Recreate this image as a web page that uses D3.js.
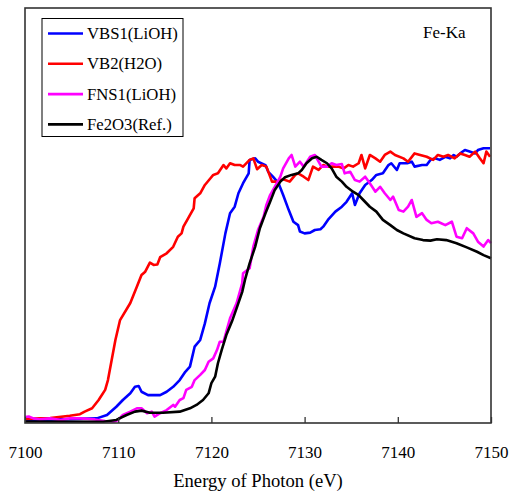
<!DOCTYPE html>
<html>

<head>
  <meta charset="utf-8">
  <title>Fe-Ka</title>
  <script src="https://d3js.org/d3.v7.min.js"></script>
  <style>
    body {
      margin: 0;
      background: #fff;
    }

    text {
      font-family: "Liberation Serif", "Times New Roman", serif;
      fill: #000;
    }
  </style>
</head>

<body>

  <div id="vis1"></div>

  <script>

    // [energia (eV), absorcao normalizada]
    var vbs1 = [[7100.0, 0.008], [7103.8, 0.010], [7107.7, 0.014], [7108.8, 0.027], [7109.8, 0.059], [7110.5, 0.085],
      [7111.3, 0.111], [7111.8, 0.136], [7112.2, 0.139], [7112.5, 0.117], [7113.2, 0.104], [7113.8, 0.104],
      [7114.5, 0.104], [7115.2, 0.117], [7115.9, 0.136], [7116.6, 0.162], [7117.2, 0.194], [7117.7, 0.214],
      [7118.2, 0.291], [7118.8, 0.317], [7119.3, 0.381], [7119.8, 0.459], [7120.4, 0.523], [7120.9, 0.613],
      [7121.5, 0.729], [7122.0, 0.807], [7122.5, 0.832], [7122.9, 0.884], [7123.4, 0.923], [7124.0, 0.961],
      [7124.1, 1.013], [7124.7, 1.019], [7125.0, 1.006], [7125.8, 0.993], [7126.1, 0.967], [7126.6, 0.948],
      [7127.2, 0.923], [7127.7, 0.877], [7128.3, 0.819], [7128.8, 0.774], [7129.3, 0.761], [7129.5, 0.736],
      [7130.0, 0.729], [7130.6, 0.732], [7131.1, 0.742], [7131.7, 0.745], [7132.0, 0.755], [7132.5, 0.781],
      [7133.3, 0.813], [7134.0, 0.832], [7134.5, 0.851], [7135.1, 0.884], [7135.4, 0.839], [7135.9, 0.884],
      [7136.5, 0.916], [7137.2, 0.935], [7137.7, 0.955], [7138.4, 0.961], [7139.0, 0.993], [7139.3, 1.000],
      [7139.9, 0.974], [7140.2, 1.000], [7141.0, 1.000], [7141.5, 1.006], [7141.8, 0.987], [7142.6, 0.993],
      [7143.1, 0.993], [7143.5, 1.013], [7144.0, 1.019], [7144.5, 1.013], [7145.1, 1.025], [7145.6, 1.019],
      [7146.0, 1.032], [7146.3, 1.025], [7146.7, 1.038], [7147.2, 1.051], [7147.7, 1.045], [7148.3, 1.038],
      [7148.6, 1.051], [7149.2, 1.058], [7149.9, 1.058]];

    var vb2 = [[7100.0, 0.012], [7102.7, 0.015], [7104.8, 0.024], [7105.9, 0.030], [7106.4, 0.040], [7107.2, 0.053],
      [7107.9, 0.085], [7108.6, 0.124], [7108.9, 0.162], [7109.3, 0.240], [7109.7, 0.317], [7110.2, 0.394],
      [7111.3, 0.460], [7112.0, 0.523], [7112.5, 0.568], [7112.9, 0.581], [7113.4, 0.616], [7113.8, 0.607],
      [7114.2, 0.609], [7114.5, 0.637], [7115.2, 0.652], [7115.9, 0.677], [7116.4, 0.716], [7116.8, 0.729],
      [7117.0, 0.755], [7117.5, 0.787], [7118.1, 0.826], [7118.2, 0.865], [7118.8, 0.884], [7119.3, 0.916],
      [7119.9, 0.942], [7120.2, 0.955], [7120.7, 0.961], [7121.3, 0.993], [7121.6, 0.980], [7122.0, 1.000],
      [7122.5, 0.993], [7123.1, 0.993], [7123.4, 0.987], [7124.1, 1.013], [7124.5, 1.019], [7124.9, 0.977],
      [7125.4, 0.993], [7125.9, 0.987], [7126.5, 0.929], [7127.0, 0.929], [7127.7, 0.938], [7128.4, 0.929],
      [7129.0, 0.955], [7129.3, 0.961], [7129.9, 0.948], [7130.4, 0.935], [7130.9, 0.987], [7131.5, 0.974],
      [7132.0, 0.993], [7132.5, 0.987], [7133.1, 0.987], [7133.6, 0.987], [7134.2, 0.980], [7134.7, 0.993],
      [7135.2, 0.987], [7135.8, 1.000], [7136.1, 1.032], [7136.5, 0.980], [7137.0, 1.032], [7137.6, 1.019],
      [7138.1, 1.006], [7138.6, 1.032], [7139.2, 1.045], [7139.7, 1.032], [7140.6, 1.019], [7141.1, 1.006],
      [7141.8, 1.038], [7142.4, 1.032], [7143.1, 1.025], [7143.8, 1.013], [7144.3, 1.032], [7144.9, 1.025],
      [7145.4, 1.032], [7146.1, 1.019], [7146.7, 1.038], [7147.2, 1.032], [7147.7, 1.025], [7148.3, 1.045],
      [7148.8, 1.019], [7149.2, 1.000], [7149.5, 1.045], [7149.9, 1.025]];

    var fns1 = [[7100.0, 0.019], [7100.4, 0.021], [7100.9, 0.014], [7101.6, 0.010], [7102.7, 0.014], [7103.8, 0.008],
      [7104.8, 0.014], [7105.9, 0.014], [7107.5, 0.010], [7108.6, 0.004], [7109.5, 0.001], [7110.0, 0.008],
      [7110.5, 0.027], [7111.3, 0.040], [7112.0, 0.053], [7112.5, 0.053], [7113.1, 0.034], [7113.6, 0.040],
      [7113.9, 0.021], [7114.5, 0.034], [7115.2, 0.046], [7115.9, 0.066], [7116.1, 0.059], [7116.6, 0.085],
      [7117.0, 0.092], [7117.3, 0.124], [7117.9, 0.136], [7118.2, 0.162], [7118.8, 0.182], [7119.3, 0.201],
      [7119.7, 0.233], [7120.2, 0.246], [7120.6, 0.278], [7120.9, 0.310], [7121.3, 0.310], [7121.6, 0.349],
      [7122.0, 0.401], [7122.3, 0.426], [7122.7, 0.459], [7123.3, 0.536], [7123.4, 0.575], [7124.1, 0.594],
      [7124.5, 0.678], [7125.0, 0.742], [7125.6, 0.793], [7125.9, 0.839], [7126.3, 0.877], [7126.8, 0.909],
      [7127.4, 0.948], [7127.7, 0.980], [7128.3, 1.019], [7128.6, 1.032], [7129.0, 0.987], [7129.5, 1.006],
      [7129.9, 0.987], [7130.6, 1.025], [7131.1, 1.032], [7131.8, 0.987], [7132.4, 0.987], [7132.9, 1.000],
      [7133.4, 0.993], [7134.0, 0.997], [7134.3, 0.961], [7134.9, 0.967], [7135.4, 0.935], [7135.9, 0.929],
      [7136.5, 0.948], [7137.0, 0.923], [7137.6, 0.890], [7138.1, 0.909], [7138.6, 0.884], [7139.2, 0.858],
      [7139.5, 0.871], [7140.1, 0.819], [7140.6, 0.813], [7141.1, 0.832], [7141.5, 0.858], [7142.0, 0.793],
      [7142.6, 0.807], [7143.1, 0.781], [7143.6, 0.768], [7144.3, 0.774], [7145.1, 0.761], [7145.8, 0.774],
      [7146.3, 0.716], [7146.9, 0.710], [7147.4, 0.749], [7148.1, 0.729], [7148.6, 0.697], [7149.2, 0.678],
      [7149.7, 0.703], [7150.0, 0.691]];

    var fe2o3 = [[7100.0, 0.002], [7108.4, 0.001], [7109.8, 0.008], [7110.9, 0.027], [7111.8, 0.040], [7112.5, 0.044],
      [7113.4, 0.036], [7114.8, 0.036], [7116.6, 0.040], [7117.7, 0.053], [7118.4, 0.066], [7119.1, 0.085],
      [7119.7, 0.111], [7120.0, 0.150], [7120.4, 0.175], [7120.7, 0.227], [7121.1, 0.278], [7121.6, 0.336],
      [7122.2, 0.388], [7122.7, 0.439], [7123.3, 0.502], [7123.6, 0.549], [7124.1, 0.613], [7124.7, 0.678],
      [7125.2, 0.749], [7125.8, 0.807], [7126.3, 0.851], [7126.8, 0.897], [7127.4, 0.929], [7127.9, 0.946],
      [7128.6, 0.955], [7129.3, 0.961], [7129.7, 0.974], [7130.2, 1.000], [7130.8, 1.019], [7131.3, 1.025],
      [7131.8, 1.013], [7132.4, 1.000], [7132.9, 0.980], [7133.4, 0.948], [7134.0, 0.929], [7134.5, 0.909],
      [7135.2, 0.890], [7135.8, 0.877], [7136.3, 0.858], [7137.0, 0.832], [7137.7, 0.813], [7138.4, 0.781],
      [7139.2, 0.761], [7139.9, 0.742], [7140.6, 0.729], [7141.8, 0.710], [7142.7, 0.703], [7143.5, 0.701],
      [7144.2, 0.706], [7145.2, 0.703], [7146.3, 0.691], [7147.4, 0.675], [7148.5, 0.658], [7149.2, 0.645],
      [7150.0, 0.633]];

    var nomes = ["VBS1(LiOH)", "VB2(H2O)", "FNS1(LiOH)", "Fe2O3(Ref.)"];
    var cores = ["#0000ff", "#ff0000", "#ff00ff", "#000000"];
    var xTicks = [7100, 7110, 7120, 7130, 7140, 7150];

    var larguraSVG = 509, alturaSVG = 492;
    var margin = { top: 8, right: 18, bottom: 69, left: 25 },
      larguraVis = larguraSVG - margin.left - margin.right,
      alturaVis = alturaSVG - margin.top - margin.bottom;

    var svg = d3.select('#vis1')
      .append('svg')
      .attr('width', larguraSVG)
      .attr('height', alturaSVG);

    var grafico = svg.append('g')
      .attr('transform', 'translate(' + margin.left + ',' + margin.top + ')');

    var x = d3.scaleLinear()
      .domain([7100, 7150])
      .range([0, larguraVis]);

    var y = d3.scaleLinear()
      .domain([0, 1.6])
      .range([alturaVis - 1, 0]);

    var linha = d3.line()
      .x(d => x(d[0]))
      .y(d => y(d[1]));

    var series = [vbs1, vb2, fns1, fe2o3];

    grafico.selectAll('.serie')
      .data(series)
      .enter()
      .append('path')
      .attr('class', 'serie')
      .attr('d', linha)
      .attr('fill', 'none')
      .attr('stroke', (d, i) => cores[i])
      .attr('stroke-width', 2.6)
      .attr('stroke-linejoin', 'round');

    // eixo x com ticks para dentro
    var eixoX = grafico.append('g')
      .attr('transform', 'translate(0,' + alturaVis + ')')
      .call(d3.axisBottom(x).tickValues(xTicks).tickSize(-6).tickPadding(23).tickFormat(d3.format('d')));

    eixoX.select('.domain').remove();
    eixoX.selectAll('line').attr('stroke', '#333').attr('stroke-width', 1.3);
    eixoX.selectAll('text')
      .attr('font-size', '17px')
      .attr('font-family', '"Liberation Serif", serif')
      .attr('fill', '#000');

    grafico.append('rect')
      .attr('x', 0)
      .attr('y', 0)
      .attr('width', larguraVis)
      .attr('height', alturaVis)
      .attr('fill', 'none')
      .attr('stroke', '#333')
      .attr('stroke-width', 1.6);

    grafico.append('text')
      .attr('x', larguraVis / 2)
      .attr('y', alturaVis + 64)
      .attr('text-anchor', 'middle')
      .attr('font-size', '18.6px')
      .text('Energy of Photon (eV)');

    grafico.append('text')
      .attr('x', 423 - margin.left)
      .attr('y', 37.5 - margin.top)
      .attr('font-size', '17px')
      .text('Fe-Ka');

    // legenda
    var legenda = svg.append('g')
      .attr('transform', 'translate(42,18.5)');

    legenda.append('rect')
      .attr('width', 141)
      .attr('height', 118)
      .attr('fill', '#fff')
      .attr('stroke', '#000')
      .attr('stroke-width', 1);

    var item = legenda.selectAll('.item')
      .data(nomes)
      .enter()
      .append('g')
      .attr('class', 'item')
      .attr('transform', (d, i) => 'translate(0,' + (15 + i * 30.3) + ')');

    item.append('line')
      .attr('x1', 6)
      .attr('x2', 41)
      .attr('stroke', (d, i) => cores[i])
      .attr('stroke-width', 2.6);

    item.append('text')
      .attr('x', 45)
      .attr('dy', '0.33em')
      .attr('font-size', '16.7px')
      .text(d => d);

  </script>

</body>

</html>
